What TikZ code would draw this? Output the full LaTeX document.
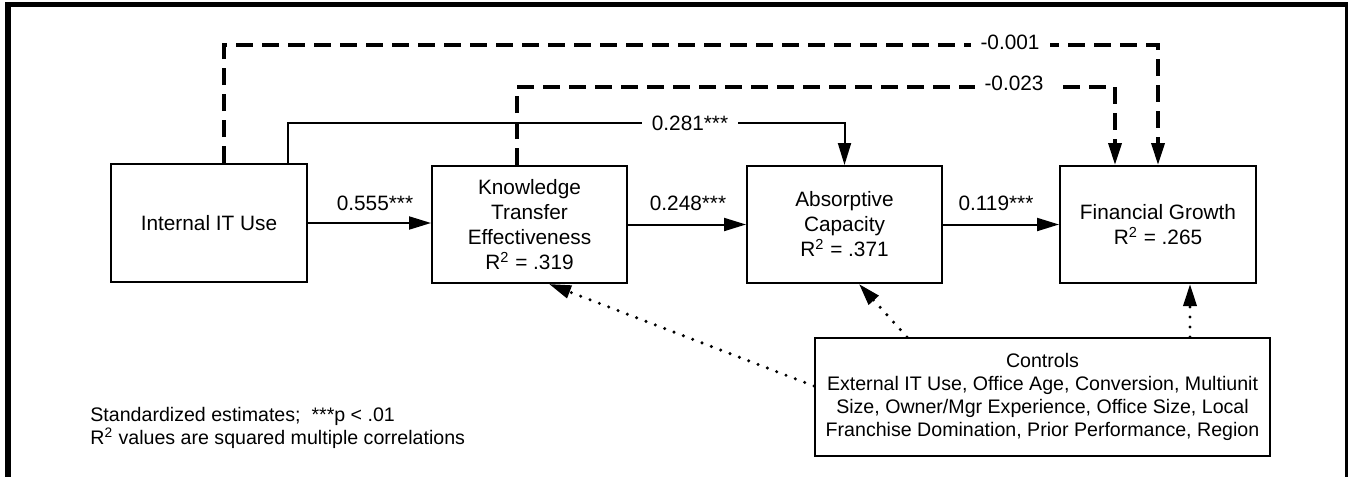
\documentclass[tikz,border=0pt]{standalone}
\usepackage{fontspec}
\setmainfont{Liberation Sans}
\usetikzlibrary{arrows.meta,calc}
\begin{document}
\begin{tikzpicture}[x=0.5pt,y=-0.5pt,
  box/.style={draw,line width=1pt,align=center,minimum width=97.5pt,minimum height=58.5pt,inner sep=0pt,font=\fontsize{10.4}{12.5}\selectfont},
  tip/.style={-{Triangle[length=11pt,width=6.5pt]}},
  sol/.style={line width=1pt,tip},
  dsh/.style={line width=1.8pt,dash pattern=on 8.5pt off 4.5pt,tip},
  dot/.style={line width=1.7pt,dash pattern=on 0pt off 5pt,line cap=round,tip},
  lab/.style={font=\fontsize{10.4}{12.5}\selectfont,inner sep=0pt},
  wlab/.style={lab,fill=white,inner xsep=5pt,inner ysep=1pt},
  note/.style={anchor=north west,inner sep=0pt,align=left,font=\fontsize{9.8}{8.8}\selectfont}]
\useasboundingbox (0,0) rectangle (1348,477);
% frame
\fill (5,2) rectangle (11,477);
\fill (5,2) rectangle (1348,7.3);
\fill (1345,2) rectangle (1348,477);
% boxes
\node[box,minimum width=98pt,minimum height=59pt] (iit) at (209,223) {Internal IT Use};
\node[box] (kte) at (529.5,224.5) {Knowledge\\Transfer\\Effectiveness\\R\textsuperscript{2} = .319};
\node[box] (ac) at (844.5,224.5) {Absorptive\\Capacity\\R\textsuperscript{2} = .371};
\node[box,minimum width=98pt] (fg) at (1158,224.5) {Financial Growth\\R\textsuperscript{2} = .265};
\node[box,minimum width=227.5pt,minimum height=59pt,font=\fontsize{9.8}{11.5}\selectfont] (ctrl) at (1042.5,397) {Controls\\External IT Use, Office Age, Conversion, Multiunit\\Size, Owner/Mgr Experience, Office Size, Local\\Franchise Domination, Prior Performance, Region};
% helper coordinates
\coordinate (r1) at (0,123);
\coordinate (r2) at (0,45);
\coordinate (r3) at (0,87);
\coordinate (f2) at ([xshift=28pt]fg.north west);
% direct paths
\draw[sol] (iit.east) -- (iit.east -| kte.west);
\draw[sol] (kte.east) -- (ac.west);
\draw[sol] (ac.east) -- (fg.west);
\node[lab] (l1) at (375,203) {0.555***};
\node[lab] (l2) at (688,203) {0.248***};
\node[lab] (l3) at (996,203) {0.119***};
% long solid
\draw[sol] ([xshift=89pt]iit.north west) |- (ac.north |- r1) -- (ac.north);
\node[wlab] (l4) at (690,123) {0.281***};
% dashed
\draw[dsh] ([xshift=57pt]iit.north west) |- (fg.north |- r2) -- (fg.north);
\draw[dsh] ([xshift=43pt]kte.north west) |- (f2 |- r3) -- (f2);
\node[wlab] (l5) at (1010,42) {-0.001};
\node[wlab] (l6) at (1014,83) {-0.023};
% dotted
\draw[dot] ([yshift=5.5pt]ctrl.west) -- ([xshift=59pt]kte.south west);
\draw[dot] ([xshift=46.5pt]ctrl.north west) -- ([xshift=56.5pt]ac.south west);
\draw[dot] ([xshift=188pt]ctrl.north west) -- ([xshift=65.5pt]fg.south west);
% notes
\node[note] (n1) at (90,407) {Standardized estimates;\ \ ***p < .01\\R\textsuperscript{2} values are squared multiple correlations};
\end{tikzpicture}
\end{document}
